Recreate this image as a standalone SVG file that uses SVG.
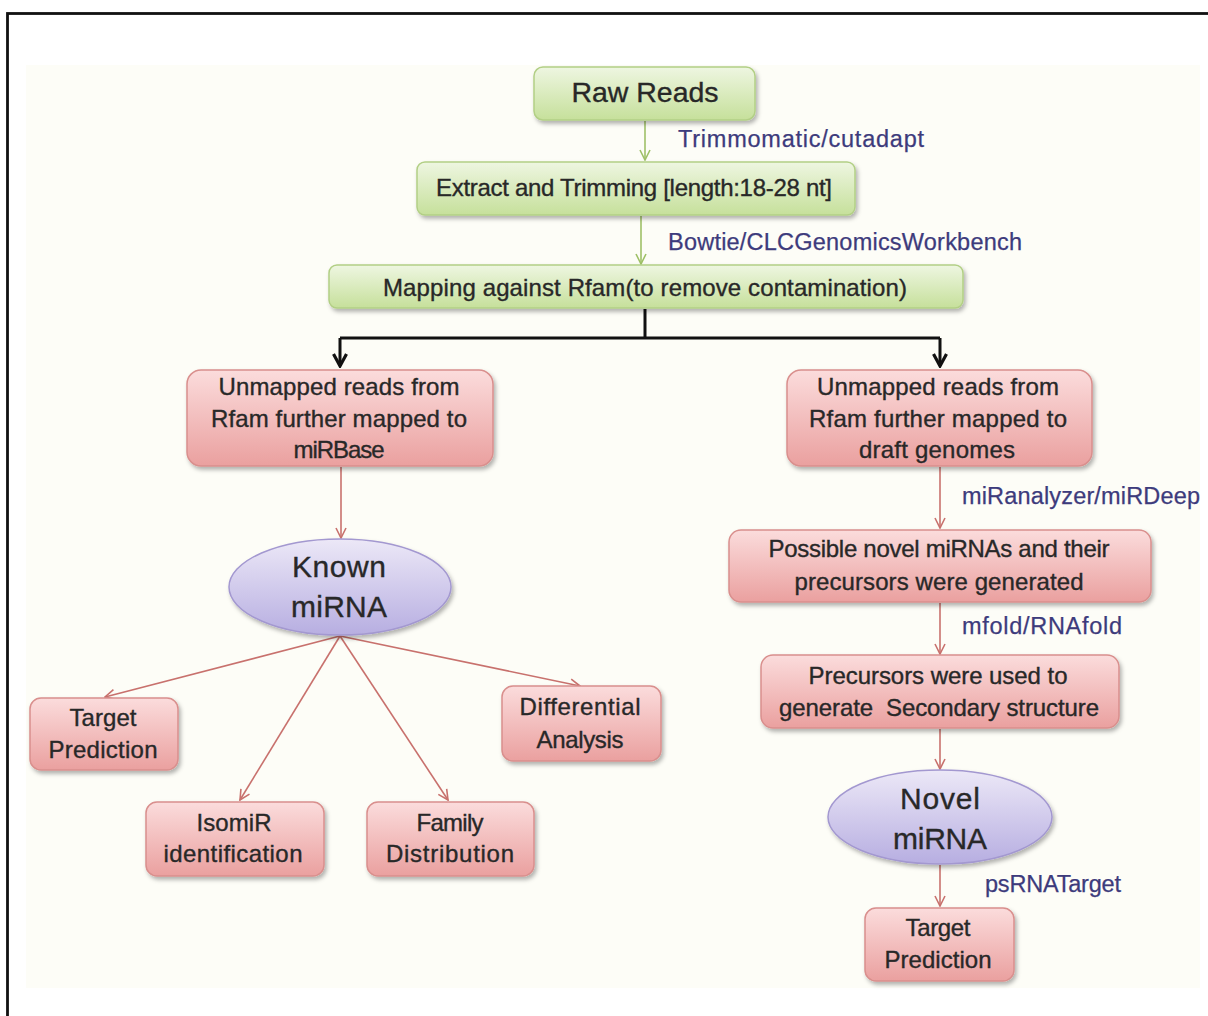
<svg xmlns="http://www.w3.org/2000/svg" width="1208" height="1016" viewBox="0 0 1208 1016">
  <defs>
    <linearGradient id="gGreen" x1="0" y1="0" x2="0" y2="1">
      <stop offset="0" stop-color="#eef6e1"/>
      <stop offset="1" stop-color="#c6e09b"/>
    </linearGradient>
    <linearGradient id="gRed" x1="0" y1="0" x2="0" y2="1">
      <stop offset="0" stop-color="#fbdcdc"/>
      <stop offset="1" stop-color="#eaa09f"/>
    </linearGradient>
    <linearGradient id="gLav" x1="0" y1="0" x2="0" y2="1">
      <stop offset="0" stop-color="#ece8f7"/>
      <stop offset="1" stop-color="#b7aee1"/>
    </linearGradient>
    <filter id="shadow" x="-10%" y="-20%" width="125%" height="150%">
      <feDropShadow dx="2" dy="3" stdDeviation="2" flood-color="#000" flood-opacity="0.3"/>
    </filter>
    <marker id="arrRed" viewBox="0 0 12 12" refX="11" refY="6" markerWidth="12" markerHeight="12" markerUnits="userSpaceOnUse" orient="auto">
      <path d="M1,1 L11,6 L1,11" fill="none" stroke="#c8716d" stroke-width="1.6"/>
    </marker>
    <marker id="arrGreen" viewBox="0 0 12 12" refX="11" refY="6" markerWidth="12" markerHeight="12" markerUnits="userSpaceOnUse" orient="auto">
      <path d="M1,1 L11,6 L1,11" fill="none" stroke="#9fc067" stroke-width="1.6"/>
    </marker>
    <marker id="arrBlack" viewBox="0 0 16 16" refX="14" refY="8" markerWidth="16" markerHeight="16" markerUnits="userSpaceOnUse" orient="auto">
      <path d="M2,1.5 L14,8 L2,14.5" fill="none" stroke="#111" stroke-width="3.2" stroke-linejoin="miter"/>
    </marker>
  </defs>
  <style>
    text { font-family: "Liberation Sans", Arial, sans-serif; fill: #282828; stroke: #282828; stroke-width: 0.35; dominant-baseline: central; text-anchor: middle; }
    .t22 { font-size: 24px; }
    .t28 { font-size: 30px; }
    .lbl { font-size: 23.5px; fill: #3d3b7c; stroke: #3d3b7c; stroke-width: 0.25; text-anchor: start; }
    .green { fill: url(#gGreen); stroke: #b2cf85; stroke-width: 1.5; filter: url(#shadow); }
    .red { fill: url(#gRed); stroke: #d98f8d; stroke-width: 1.5; filter: url(#shadow); }
    .lav { fill: url(#gLav); stroke: #a398d0; stroke-width: 1.5; filter: url(#shadow); }
    .cr { stroke: #c8716d; stroke-width: 1.6; fill: none; marker-end: url(#arrRed); }
    .cg { stroke: #9fc067; stroke-width: 1.6; fill: none; marker-end: url(#arrGreen); }
    .cb { stroke: #111; stroke-width: 3; fill: none; }
  </style>

  <!-- page frame and backdrop -->
  <rect x="7.5" y="13.5" width="1220" height="1020" fill="#ffffff" stroke="#111" stroke-width="2.8"/>
  <rect x="26" y="65" width="1174" height="923" fill="#fdfdf7"/>

  <!-- connectors -->
  <g id="connectors">
    <line class="cg" x1="645" y1="121" x2="645" y2="160"/>
    <line class="cg" x1="641" y1="216" x2="641" y2="264"/>
    <path class="cb" d="M645,309 V338"/>
    <path class="cb" d="M340,338 H940"/>
    <path class="cb" d="M340,338 V366" marker-end="url(#arrBlack)"/>
    <path class="cb" d="M940,338 V366" marker-end="url(#arrBlack)"/>
    <line class="cr" x1="341" y1="467" x2="341" y2="538"/>
    <line class="cr" x1="340" y1="636" x2="105" y2="697"/>
    <line class="cr" x1="340" y1="636" x2="240" y2="800"/>
    <line class="cr" x1="340" y1="636" x2="448" y2="800"/>
    <line class="cr" x1="340" y1="636" x2="580" y2="686"/>
    <line class="cr" x1="940" y1="467" x2="940" y2="528"/>
    <line class="cr" x1="940" y1="603" x2="940" y2="654"/>
    <line class="cr" x1="940" y1="729" x2="940" y2="769"/>
    <line class="cr" x1="940" y1="865" x2="940" y2="906"/>
  </g>

  <!-- tool labels -->
  <g id="labels">
    <text class="lbl" x="678" y="139" textLength="246">Trimmomatic/cutadapt</text>
    <text class="lbl" x="668" y="242" textLength="354">Bowtie/CLCGenomicsWorkbench</text>
    <text class="lbl" x="962" y="496" textLength="238">miRanalyzer/miRDeep</text>
    <text class="lbl" x="962" y="626" textLength="160">mfold/RNAfold</text>
    <text class="lbl" x="985" y="884" textLength="136">psRNATarget</text>
  </g>

  <g id="raw-reads">
    <rect class="green" x="534" y="67" width="221" height="53" rx="9"/>
    <text x="645" y="92" font-size="28.5" textLength="147">Raw Reads</text>
  </g>
  <g id="extract-trimming">
    <rect class="green" x="417" y="162" width="438" height="53" rx="8"/>
    <text class="t22" x="634" y="187" font-size="23.3" textLength="396">Extract and Trimming [length:18-28 nt]</text>
  </g>
  <g id="mapping-rfam">
    <rect class="green" x="329" y="265" width="634" height="43" rx="8"/>
    <text class="t22" x="645" y="287" font-size="23.3" textLength="524">Mapping against Rfam(to remove contamination)</text>
  </g>

  <g id="unmapped-mirbase">
    <rect class="red" x="187" y="370" width="306" height="96" rx="14"/>
    <text class="t22" x="339" y="386" textLength="241">Unmapped reads from</text>
    <text class="t22" x="339" y="418" textLength="256">Rfam further mapped to</text>
    <text class="t22" x="339" y="449" textLength="91">miRBase</text>
  </g>
  <g id="unmapped-genomes">
    <rect class="red" x="787" y="370" width="305" height="96" rx="14"/>
    <text class="t22" x="938" y="386" textLength="242">Unmapped reads from</text>
    <text class="t22" x="938" y="418" textLength="258">Rfam further mapped to</text>
    <text class="t22" x="937" y="449" textLength="156">draft genomes</text>
  </g>

  <g id="known-mirna">
    <ellipse class="lav" cx="340" cy="587" rx="111" ry="48"/>
    <text class="t28" x="339" y="566" textLength="94">Known</text>
    <text class="t28" x="339" y="606" textLength="96">miRNA</text>
  </g>

  <g id="target-prediction-known">
    <rect class="red" x="30" y="698" width="148" height="72" rx="11"/>
    <text class="t22" x="103" y="717" textLength="67">Target</text>
    <text class="t22" x="103" y="749" textLength="109">Prediction</text>
  </g>
  <g id="isomir">
    <rect class="red" x="146" y="802" width="178" height="74" rx="11"/>
    <text class="t22" x="234" y="822" textLength="75">IsomiR</text>
    <text class="t22" x="233" y="853" textLength="139">identification</text>
  </g>
  <g id="family-distribution">
    <rect class="red" x="367" y="802" width="167" height="74" rx="11"/>
    <text class="t22" x="450" y="822" textLength="67">Family</text>
    <text class="t22" x="450" y="853" textLength="128">Distribution</text>
  </g>
  <g id="differential-analysis">
    <rect class="red" x="502" y="686" width="159" height="75" rx="11"/>
    <text class="t22" x="580" y="706" textLength="121">Differential</text>
    <text class="t22" x="580" y="739" textLength="87">Analysis</text>
  </g>

  <g id="possible-novel">
    <rect class="red" x="729" y="530" width="422" height="72" rx="12"/>
    <text class="t22" x="939" y="548" textLength="341">Possible novel miRNAs and their</text>
    <text class="t22" x="939" y="581" textLength="289">precursors were generated</text>
  </g>
  <g id="secondary-structure">
    <rect class="red" x="761" y="655" width="358" height="73" rx="12"/>
    <text class="t22" x="938" y="675" textLength="259">Precursors were used to</text>
    <text class="t22" x="939" y="707" textLength="320" xml:space="preserve">generate  Secondary structure</text>
  </g>

  <g id="novel-mirna">
    <ellipse class="lav" cx="940" cy="817" rx="112" ry="47"/>
    <text class="t28" x="940" y="798" textLength="80">Novel</text>
    <text class="t28" x="940" y="838" textLength="94">miRNA</text>
  </g>

  <g id="target-prediction-novel">
    <rect class="red" x="865" y="908" width="149" height="73" rx="11"/>
    <text class="t22" x="938" y="927" textLength="65">Target</text>
    <text class="t22" x="938" y="959" textLength="107">Prediction</text>
  </g>
</svg>
